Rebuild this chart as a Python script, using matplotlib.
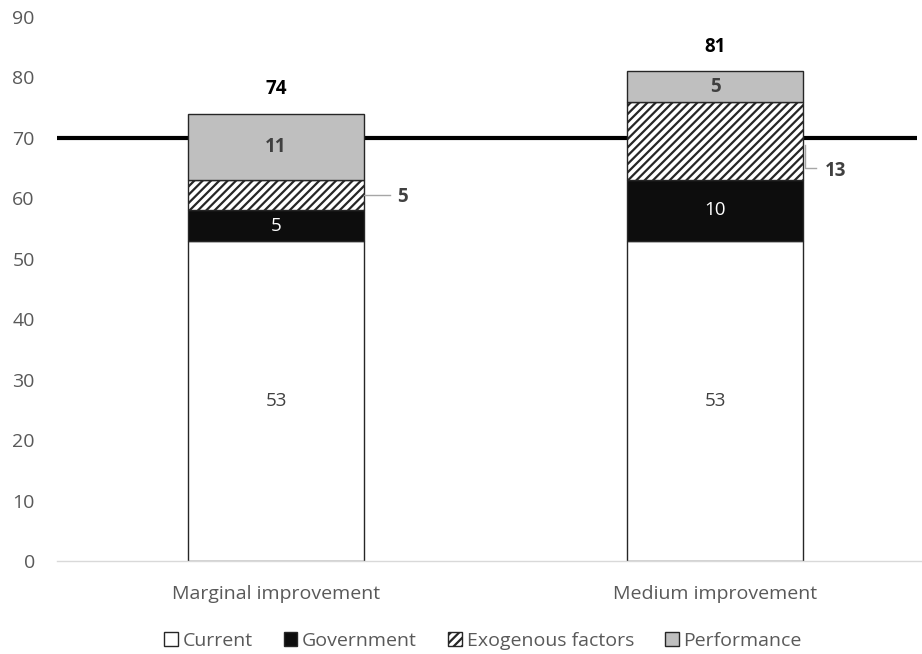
import matplotlib
matplotlib.use("Agg")
import matplotlib.pyplot as plt
from matplotlib.patches import Patch

plt.rcParams['font.family'] = ['Open Sans', 'DejaVu Sans']
plt.rcParams['hatch.linewidth'] = 1.6

categories = ["Marginal improvement", "Medium improvement"]
current = [53, 53]
government = [5, 10]
exogenous = [5, 13]
performance = [11, 5]
totals = [74, 81]
threshold = 70

fig = plt.figure(figsize=(9.22, 6.54), dpi=100)
ax = fig.add_axes([57 / 922, 93 / 654, 865 / 922, 544 / 654])

x = list(range(len(categories)))
width = 0.40
edge = "#262626"

# reference line sits behind the stacked bars
ax.plot([-0.5, 1.46], [threshold, threshold], color="black", lw=3, zorder=1,
        solid_capstyle="butt")

ax.bar(x, current, width, color="white", edgecolor=edge, lw=1, zorder=2)
bottom = list(current)
ax.bar(x, government, width, bottom=bottom, color="#0d0d0d", edgecolor=edge, lw=1, zorder=2)
bottom = [b + g for b, g in zip(bottom, government)]
ax.bar(x, exogenous, width, bottom=bottom, color="white", edgecolor=edge, lw=1,
       hatch="////", zorder=2)
bottom_perf = [b + e for b, e in zip(bottom, exogenous)]
ax.bar(x, performance, width, bottom=bottom_perf, color="#bfbfbf", edgecolor=edge, lw=1, zorder=2)

label_fs = 13.5
for i in x:
    ax.text(i, current[i] / 2, str(current[i]), ha="center", va="center",
            fontsize=label_fs, color="#404040", zorder=3)
    ax.text(i, current[i] + government[i] / 2, str(government[i]), ha="center", va="center",
            fontsize=label_fs, color="white", zorder=3)
    ax.text(i, bottom_perf[i] + performance[i] / 2, str(performance[i]), ha="center",
            va="center", fontsize=label_fs, color="#404040", fontweight="bold", zorder=3)
    ax.text(i, totals[i] + 4.1, str(totals[i]), ha="center", va="center",
            fontsize=label_fs, color="black", fontweight="bold", zorder=3)

# exogenous labels placed outside the bars with leader lines
ex0_mid = bottom[0] + exogenous[0] / 2
ax.plot([width / 2, width / 2 + 0.06], [ex0_mid, ex0_mid], color="#a6a6a6", lw=1, zorder=3)
ax.text(width / 2 + 0.075, ex0_mid - 0.3, str(exogenous[0]), ha="left", va="center",
        fontsize=label_fs, color="#404040", fontweight="bold")

lab_y = 65
ax.plot([1 + width / 2 + 0.005, 1 + width / 2 + 0.005, 1 + width / 2 + 0.03],
        [bottom[1] + exogenous[1] * 0.45, lab_y, lab_y], color="#a6a6a6", lw=1, zorder=3)
ax.text(1 + width / 2 + 0.05, lab_y - 0.4, str(exogenous[1]), ha="left", va="center",
        fontsize=label_fs, color="#404040", fontweight="bold")

ax.set_xlim(-0.4989, 1.4715)
ax.set_ylim(0, 90)
ax.set_yticks(range(0, 91, 10))
ax.set_xticks(x)
ax.set_xticklabels(categories)
ax.tick_params(axis="both", length=0, labelsize=14, labelcolor="#595959")
ax.tick_params(axis="y", pad=16)
ax.tick_params(axis="x", pad=17)
for s in ["top", "right", "left"]:
    ax.spines[s].set_visible(False)
ax.spines["bottom"].set_color("#d9d9d9")
ax.spines["bottom"].set_linewidth(1)

handles = [
    Patch(facecolor="white", edgecolor=edge, label="Current"),
    Patch(facecolor="#0d0d0d", edgecolor=edge, label="Government"),
    Patch(facecolor="white", edgecolor=edge, hatch="////", label="Exogenous factors"),
    Patch(facecolor="#bfbfbf", edgecolor=edge, label="Performance"),
]
fig.legend(handles=handles, loc="center", bbox_to_anchor=(483 / 922, 1 - 641 / 654),
           ncol=4, frameon=False, fontsize=14, handlelength=0.7, handleheight=0.7,
           handletextpad=0.25, columnspacing=1.6, labelcolor="#595959")

fig.savefig("out.png", dpi=100)
